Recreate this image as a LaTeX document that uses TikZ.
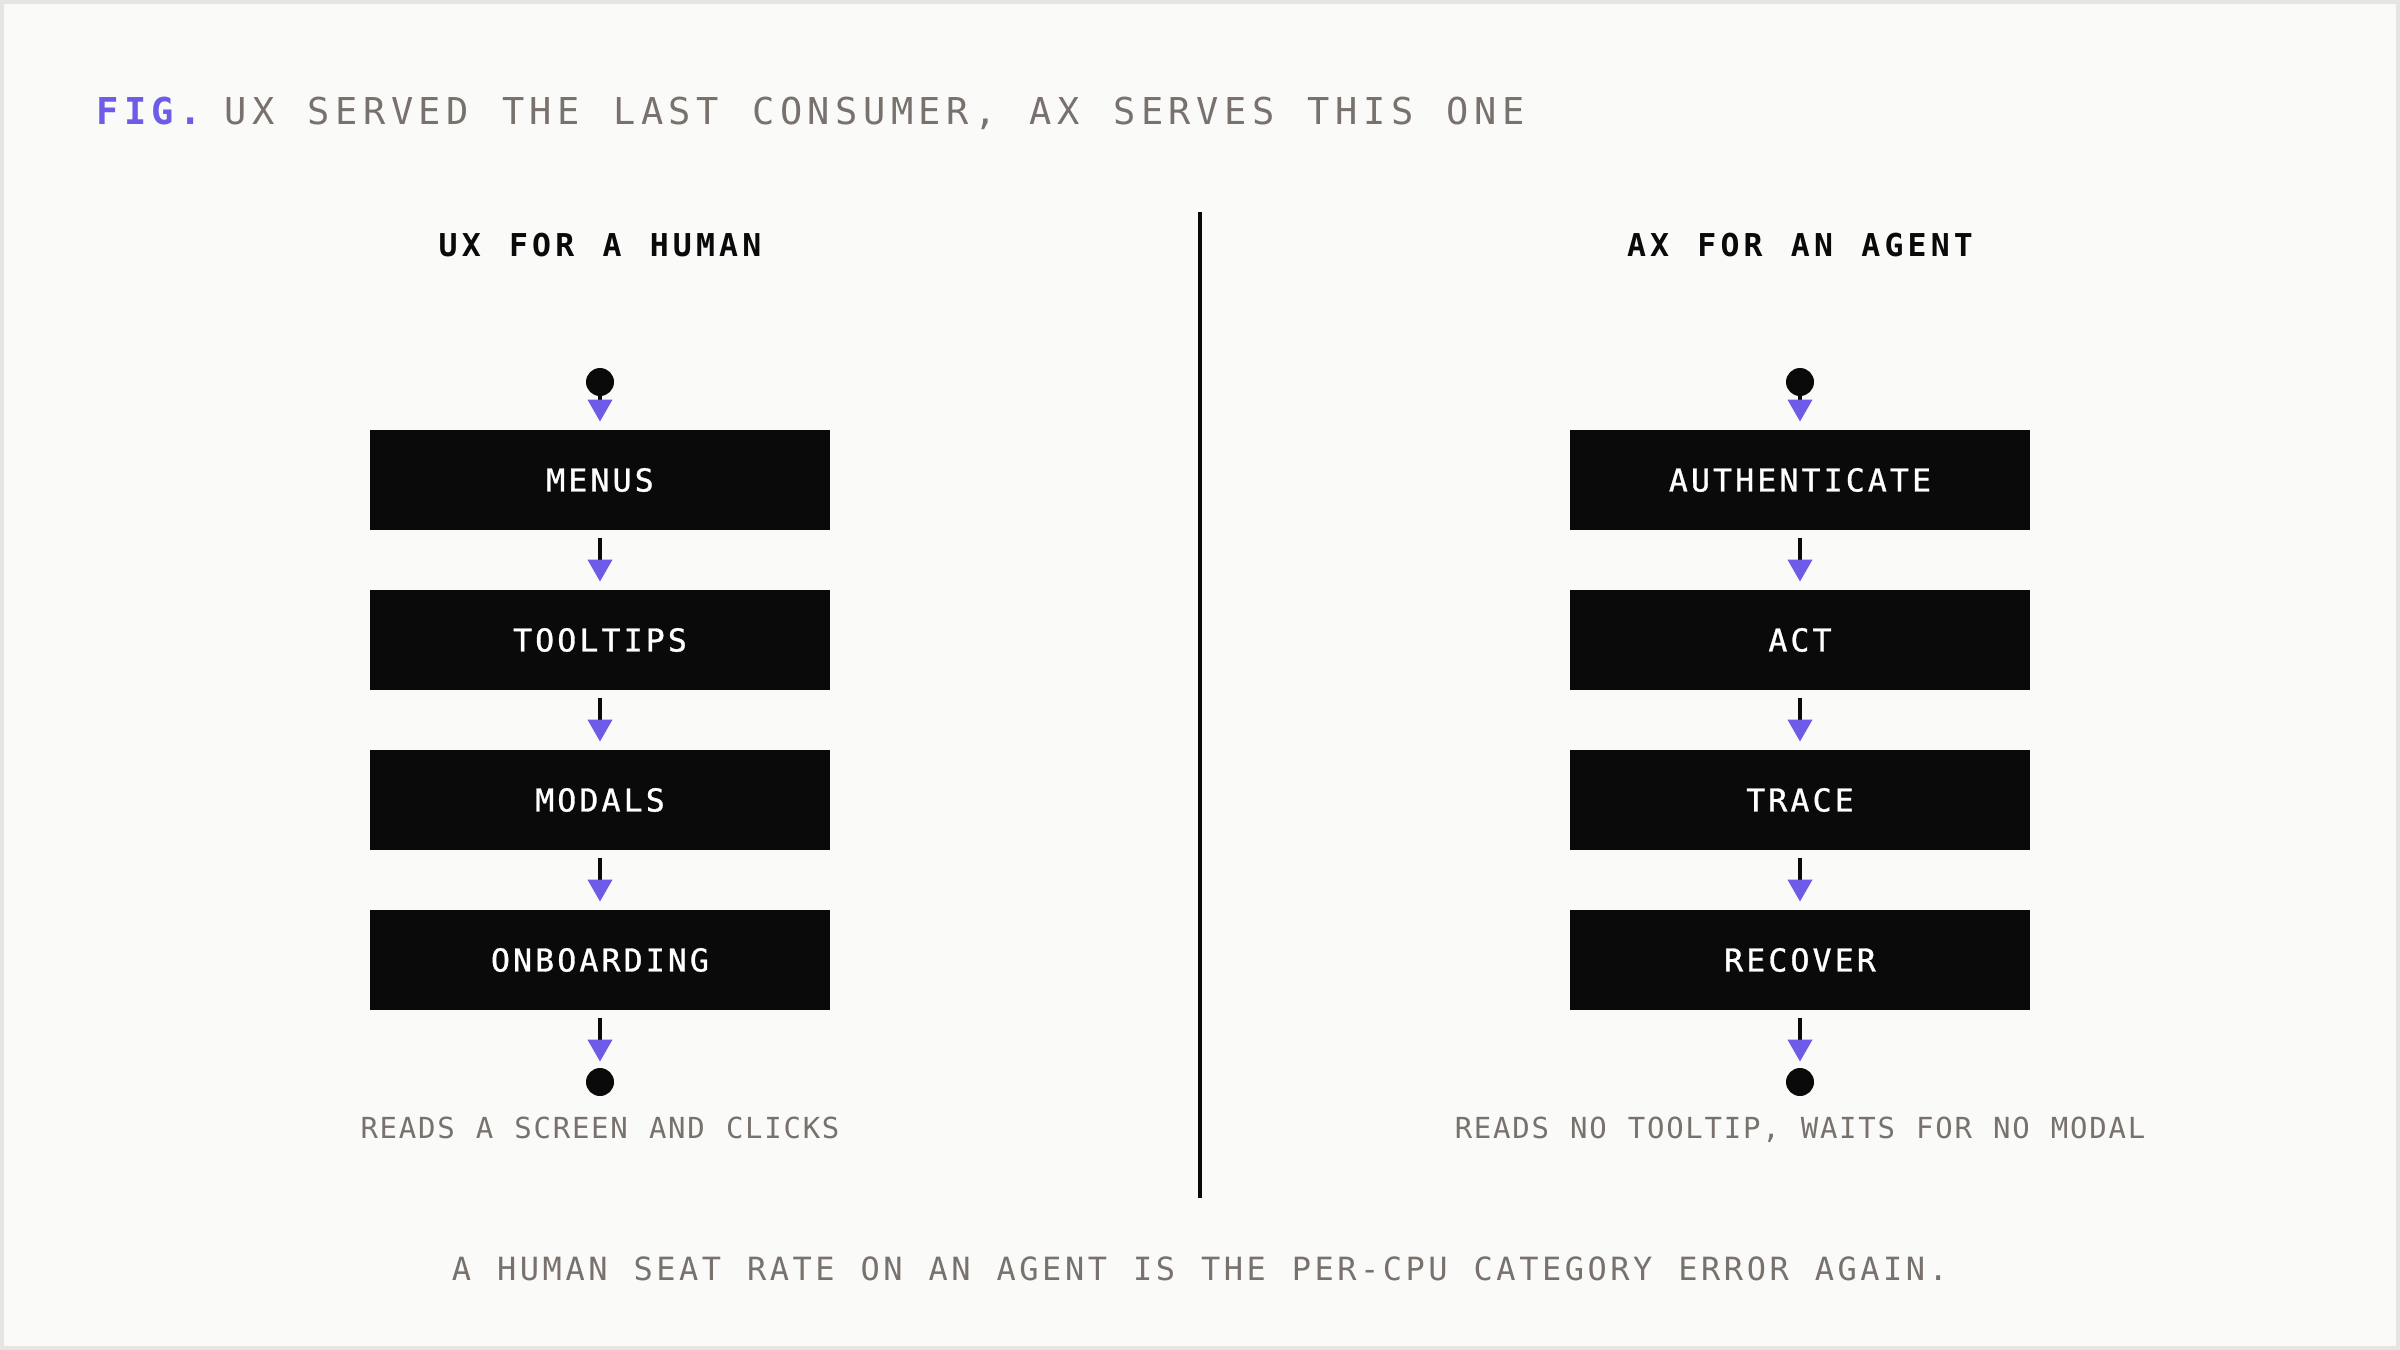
\documentclass[tikz,border=0pt]{standalone}
\usepackage{fontspec}
\usetikzlibrary{arrows.meta}
\newfontfamily\fontTitle[LetterSpace=14.7,WordSpace=1.21]{DejaVu Sans Mono}
\newfontfamily\fontHead[LetterSpace=13.3,WordSpace=1.221]{DejaVu Sans Mono}
\newfontfamily\fontBox[LetterSpace=10,WordSpace=1.166,FakeBold=1.0]{DejaVu Sans Mono}
\newfontfamily\fontCap[LetterSpace=6,WordSpace=1.1]{DejaVu Sans Mono}
\newfontfamily\fontFoot[LetterSpace=11,WordSpace=1.139]{DejaVu Sans Mono}
\definecolor{bg}{HTML}{FAFAF9}
\definecolor{frame}{HTML}{E7E5E4}
\definecolor{ink}{HTML}{0A0A0A}
\definecolor{muted}{HTML}{78716C}
\definecolor{accent}{HTML}{6C5CE7}
\begin{document}
\begin{tikzpicture}[x=0.5pt,y=-0.5pt,
  stepbox/.style={fill=ink, draw=none, minimum width=230pt, minimum height=50pt, inner sep=0pt, text=white,
    font=\fontBox\fontsize{15.75pt}{18pt}\selectfont},
  dot/.style={circle, fill=ink, draw=none, minimum size=14pt, inner sep=0pt},
  flow/.style={draw=ink, line width=2pt, -{Triangle[width=12pt,length=11pt,color=accent]}},
  heading/.style={anchor=base, inner sep=0pt, text=ink, font=\fontHead\bfseries\fontsize{15.75pt}{18pt}\selectfont},
  caption/.style={anchor=base, inner sep=0pt, text=muted, font=\fontCap\fontsize{14.5pt}{17pt}\selectfont},
  titletext/.style={anchor=base west, inner sep=0pt, font=\fontTitle\fontsize{18.5pt}{22pt}\selectfont},
]
\path[fill=bg, draw=frame, line width=2pt] (2,2) rectangle (2398,1348);
\useasboundingbox (0,0) rectangle (2400,1350);

\node[titletext, text=accent, font=\fontTitle\bfseries\fontsize{18.5pt}{22pt}\selectfont] (fig) at (96,124) {FIG.};
\node[titletext, text=muted] (title) at (224,124) {UX SERVED THE LAST CONSUMER, AX SERVES THIS ONE};

\node[heading] (hl) at (600,256) {UX FOR A HUMAN};
\node[heading] (hr) at (1800,256) {AX FOR AN AGENT};

\coordinate (dtop) at (1200,212);
\coordinate (dbot) at (1200,1198);
\draw[ink, line width=2pt] (dtop) -- (dbot);

% left column
\node[dot] (ls) at (600,382) {};
\node[stepbox] (l1) at (600,480) {MENUS};
\node[stepbox] (l2) at (600,640) {TOOLTIPS};
\node[stepbox] (l3) at (600,800) {MODALS};
\node[stepbox] (l4) at (600,960) {ONBOARDING};
\node[dot] (le) at (600,1082) {};
\draw[flow, shorten >=4pt] (ls.south) -- (l1.north);
\draw[flow, shorten <=4pt, shorten >=4pt] (l1.south) -- (l2.north);
\draw[flow, shorten <=4pt, shorten >=4pt] (l2.south) -- (l3.north);
\draw[flow, shorten <=4pt, shorten >=4pt] (l3.south) -- (l4.north);
\draw[flow, shorten <=4pt, shorten >=3pt] (l4.south) -- (le.north);
\node[caption] (lc) at (600,1138) {READS A SCREEN AND CLICKS};

% right column
\node[dot] (rs) at (1800,382) {};
\node[stepbox] (r1) at (1800,480) {AUTHENTICATE};
\node[stepbox] (r2) at (1800,640) {ACT};
\node[stepbox] (r3) at (1800,800) {TRACE};
\node[stepbox] (r4) at (1800,960) {RECOVER};
\node[dot] (re) at (1800,1082) {};
\draw[flow, shorten >=4pt] (rs.south) -- (r1.north);
\draw[flow, shorten <=4pt, shorten >=4pt] (r1.south) -- (r2.north);
\draw[flow, shorten <=4pt, shorten >=4pt] (r2.south) -- (r3.north);
\draw[flow, shorten <=4pt, shorten >=4pt] (r3.south) -- (r4.north);
\draw[flow, shorten <=4pt, shorten >=3pt] (r4.south) -- (re.north);
\node[caption] (rc) at (1800,1138) {READS NO TOOLTIP, WAITS FOR NO MODAL};

\node[anchor=base, inner sep=0pt, text=muted, font=\fontFoot\fontsize{16pt}{19pt}\selectfont] (foot) at (1200,1280)
  {A HUMAN SEAT RATE ON AN AGENT IS THE PER-CPU CATEGORY ERROR AGAIN.};
\end{tikzpicture}
\end{document}
